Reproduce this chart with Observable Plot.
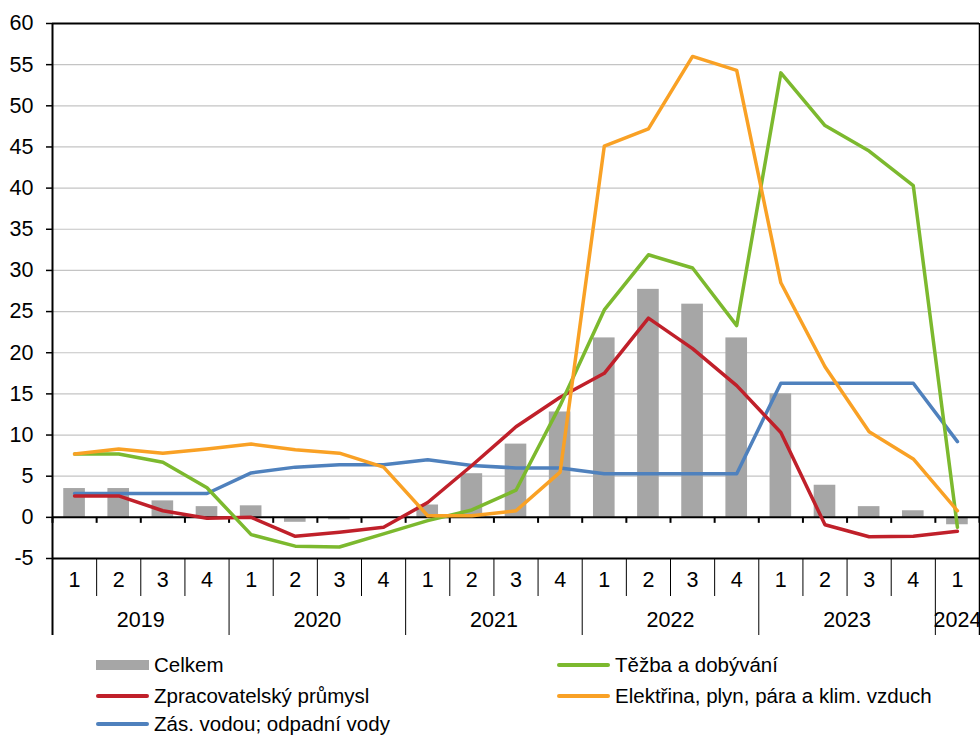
<!DOCTYPE html>
<html><head><meta charset="utf-8">
<script src="https://cdn.jsdelivr.net/npm/d3@7"></script>
<script src="https://cdn.jsdelivr.net/npm/@observablehq/plot@0.6"></script>
<style>
body{margin:0;background:#fff;font-family:"Liberation Sans",Arial,sans-serif;}
#wrap{position:relative;width:980px;height:736px;overflow:hidden;background:#fff;}
.lg{position:absolute;height:20px;display:flex;align-items:center;font-size:20.5px;white-space:nowrap;color:#000;}
.sw{display:inline-block;margin-right:5px;}
</style></head><body><div id="wrap"></div>
<script>
// ---- data ----
const quarterLabels = ["1","2","3","4","1","2","3","4","1","2","3","4","1","2","3","4","1","2","3","4","1"];
const quarterYears  = ["2019","2019","2019","2019","2020","2020","2020","2020","2021","2021","2021","2021","2022","2022","2022","2022","2023","2023","2023","2023","2024"];
const years = ["2019","2020","2021","2022","2023","2024"];
const celkem = [3.5,3.5,2.0,1.3, 1.4,-0.6,-0.3,0.0, 1.5,5.3,8.9,12.8, 21.8,27.7,25.9,21.8, 15.0,3.9,1.3,0.8, -0.9];
const tezba  = [7.7,7.7,6.7,3.6, -2.1,-3.5,-3.6,-2.0, -0.4,0.9,3.3,13.6, 25.2,31.9,30.3,23.3, 54.0,47.6,44.5,40.3, -1.2];
const zprac  = [2.6,2.6,0.8,-0.1, 0.0,-2.3,-1.8,-1.2, 1.8,6.3,11.0,14.6, 17.5,24.2,20.5,16.0, 10.3,-0.9,-2.35,-2.3, -1.7];
const elektr = [7.7,8.3,7.8,8.3, 8.9,8.2,7.8,6.1, 0.2,0.2,0.8,5.5, 45.1,47.2,56.0,54.3, 28.5,18.3,10.4,7.1, 0.8];
const voda   = [2.9,2.9,2.9,2.9, 5.4,6.1,6.4,6.4, 7.0,6.3,6.0,6.0, 5.3,5.3,5.3,5.3, 16.3,16.3,16.3,16.3, 9.2];
const yTicks = [-5,0,5,10,15,20,25,30,35,40,45,50,55,60];
const seriesNames = ["Celkem","Těžba a dobývání","Zpracovatelský průmysl","Elektřina, plyn, pára a klim. vzduch","Zás. vodou; odpadní vody"];
const colors = {celkem:"#a6a6a6", tezba:"#7cb92e", zprac:"#c0202a", elektr:"#f9a125", voda:"#4f81bd"};

// ---- derived tables ----
const rows = quarterLabels.map((q,i)=>({i, q, year: quarterYears[i], celkem: celkem[i], tezba: tezba[i], zprac: zprac[i], elektr: elektr[i], voda: voda[i]}));
const n = rows.length;
const boundaries = d3.range(0, n+1).map(k => k - 0.5);
const interior = boundaries.slice(1, -1);
const yearStarts = interior.filter(b => quarterYears[b-0.5] !== quarterYears[b+0.5]);
const quarterSeps = interior.filter(b => !yearStarts.includes(b));
const yearRows = years.map(y => {
  const idx = rows.filter(r => r.year === y).map(r => r.i);
  return {year: y, x: d3.mean(idx)};
});
const grid = yTicks.filter(t => t !== -5 && t !== 0 && t !== 60);

const chart = Plot.plot({
  width: 980, height: 640,
  marginLeft: 52, marginRight: 1, marginTop: 23, marginBottom: 82,
  x: {type: "linear", domain: [-0.5, n - 0.5], axis: null},
  y: {domain: [-5, 60], axis: null},
  style: {fontSize: "21.5px", fontFamily: "'Liberation Sans', Arial, sans-serif", color: "#000", background: "#fff", overflow: "visible"},
  marks: [
    Plot.ruleY(grid, {y: d => d, stroke: "#c4c4c4", strokeWidth: 1.2}),
    Plot.rectY(rows, {x1: d => d.i - 0.245, x2: d => d.i + 0.245, y1: 0, y2: "celkem", fill: colors.celkem}),
    Plot.ruleY([-5, 0, 60], {y: d => d, stroke: "#000", strokeWidth: 2}),
    Plot.ruleX(boundaries, {x: d => d, y1: 0, y2: 0, insetBottom: -6, stroke: "#000", strokeWidth: 2}),
    Plot.ruleX(quarterSeps, {x: d => d, y1: -5, y2: -5, insetBottom: -38, stroke: "#000", strokeWidth: 1}),
    Plot.ruleX(yearStarts, {x: d => d, y1: -5, y2: -5, insetBottom: -77, stroke: "#000", strokeWidth: 1}),
    Plot.ruleX([-0.5], {x: d => d, y1: 60, y2: -5, insetBottom: -77, stroke: "#000", strokeWidth: 2}),
    Plot.ruleX([n - 0.5], {x: d => d, y1: 60, y2: -5, insetBottom: -77, stroke: "#000", strokeWidth: 1.5}),
    Plot.axisY({ticks: yTicks, tickSize: 6, tickPadding: 13, label: null, stroke: "#000", strokeWidth: 1.5, tickFormat: d => String(d)}),
    Plot.line(rows, {x: "i", y: "voda", stroke: colors.voda, strokeWidth: 3.5}),
    Plot.line(rows, {x: "i", y: "zprac", stroke: colors.zprac, strokeWidth: 3.5}),
    Plot.line(rows, {x: "i", y: "tezba", stroke: colors.tezba, strokeWidth: 3.5}),
    Plot.line(rows, {x: "i", y: "elektr", stroke: colors.elektr, strokeWidth: 3.5}),
    Plot.text(rows, {x: "i", text: "q", frameAnchor: "bottom", dy: 28, fill: "#000"}),
    Plot.text(yearRows, {x: "x", text: "year", frameAnchor: "bottom", dy: 68, fill: "#000"})
  ]
});
const wrap = document.getElementById("wrap");
chart.style.position = "absolute";
chart.style.left = "0px";
chart.style.top = "0px";
wrap.appendChild(chart);

// ---- legend ----
const legendItems = [
  {name: seriesNames[0], color: colors.celkem, kind: "rect", left: 96, cy: 665},
  {name: seriesNames[1], color: colors.tezba, kind: "line", left: 557, cy: 665},
  {name: seriesNames[2], color: colors.zprac, kind: "line", left: 96, cy: 696},
  {name: seriesNames[3], color: colors.elektr, kind: "line", left: 557, cy: 696},
  {name: seriesNames[4], color: colors.voda, kind: "line", left: 96, cy: 724}
];
for (const it of legendItems) {
  const d = document.createElement("div");
  d.className = "lg";
  d.style.left = it.left + "px";
  d.style.top = (it.cy - 10) + "px";
  const s = document.createElement("span");
  s.className = "sw";
  s.style.width = "53px";
  if (it.kind === "rect") { s.style.height = "10px"; s.style.background = it.color; }
  else { s.style.height = "4px"; s.style.borderRadius = "2px"; s.style.background = it.color; }
  const t = document.createElement("span");
  t.textContent = it.name;
  d.appendChild(s); d.appendChild(t);
  wrap.appendChild(d);
}
</script></body></html>
